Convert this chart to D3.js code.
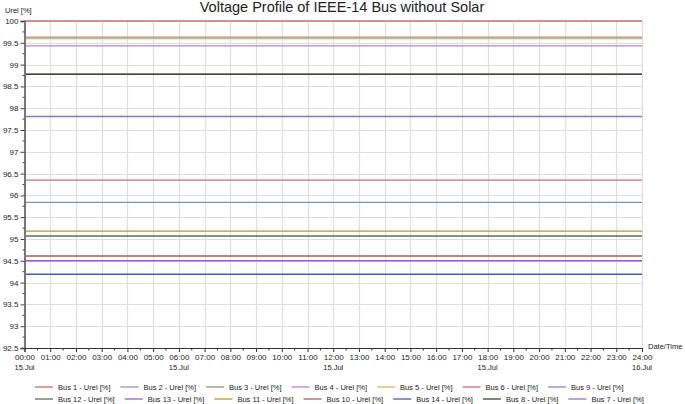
<!DOCTYPE html>
<head>
<meta charset="utf-8">
<title>Voltage Profile</title>
<style>
body { margin: 0; background: #fff; }
text { font-family: "Liberation Sans", Arial, sans-serif; fill: #222; }
.grid line { stroke: #dedede; stroke-width: 1.2px; }
.tick text { font-size: 8px; }
</style>
</head>
<body>
<script src="https://cdn.jsdelivr.net/npm/d3@7"></script>
<script>

// bus names, in legend order
var buses = ["Bus 1", "Bus 2", "Bus 3", "Bus 4", "Bus 5", "Bus 6", "Bus 9",
             "Bus 12", "Bus 13", "Bus 11", "Bus 10", "Bus 14", "Bus 8", "Bus 7"];
// Urel [%] for each bus (flat over the day)
var urel = [100, 99.63, 98.78, 99.43, 99.60, 96.35, 95.84,
            95.07, 94.50, 95.18, 94.61, 94.19, 98.78, 97.81];
var colors = ["#d66a6a", "#8393c8", "#8a9a7a", "#b283e0", "#e2b24c", "#cc7070", "#7b8fd6",
              "#5c7050", "#9a5ad8", "#b8962e", "#b05a5a", "#3c5ccc", "#3e4634", "#9470c4"];
var hours = [0, 24];
var dateLabels = [[0, "15.Jul"], [6, "15.Jul"], [12, "15.Jul"], [18, "15.Jul"], [24, "16.Jul"]];

var width = 685, height = 404;
var pLeft = 24.5, pRight = 642, pTop = 21, pBottom = 348;

var svg = d3.select("body").append("svg")
    .attr("width", width)
    .attr("height", height);

var x = d3.scaleLinear().domain([0, 24]).range([pLeft, pRight]);
var y = d3.scaleLinear().domain([92.5, 100]).range([pBottom, pTop]);

var yTicks = d3.range(92.5, 100.01, 0.5);
var xTicks = d3.range(0, 24.01, 1);

// grid
var grid = svg.append("g").attr("class", "grid");
grid.selectAll(".h").data(yTicks).enter().append("line")
    .attr("x1", pLeft).attr("x2", pRight)
    .attr("y1", function(d) { return Math.round(y(d)) + 0.5; })
    .attr("y2", function(d) { return Math.round(y(d)) + 0.5; });
grid.selectAll(".v").data(xTicks).enter().append("line")
    .attr("y1", pTop).attr("y2", pBottom)
    .attr("x1", function(d) { return Math.round(x(d)) + 0.5; })
    .attr("x2", function(d) { return Math.round(x(d)) + 0.5; });

// series
var line = d3.line()
    .x(function(d) { return x(d[0]); })
    .y(function(d) { return y(d[1]); });

svg.append("g").selectAll("path")
    .data(buses)
    .enter().append("path")
    .attr("fill", "none")
    .attr("stroke", function(d, i) { return colors[i]; })
    .attr("stroke-width", 1.4)
    .attr("d", function(d, i) {
        return line(hours.map(function(h) { return [h, urel[i]]; }));
    });

// y axis
var yAxis = d3.axisLeft(y)
    .tickValues(yTicks)
    .tickSize(4)
    .tickFormat(function(d) { return d3.format("~g")(d); });
var gy = svg.append("g").attr("transform", "translate(" + pLeft + ",0)").call(yAxis);
gy.select(".domain").attr("stroke", "#777").attr("stroke-width", 2);
gy.selectAll(".tick line").attr("stroke", "#444");
gy.selectAll(".tick text").attr("x", -6);

// minor y ticks
svg.append("g").selectAll("line")
    .data(d3.range(92.75, 100, 0.5))
    .enter().append("line")
    .attr("x1", pLeft - 2).attr("x2", pLeft)
    .attr("y1", function(d) { return y(d); })
    .attr("y2", function(d) { return y(d); })
    .attr("stroke", "#444");

// x axis
var xAxis = d3.axisBottom(x)
    .tickValues(xTicks)
    .tickSize(4)
    .tickFormat(function(d) { return d3.format("02")(d) + ":00"; });
var gx = svg.append("g").attr("transform", "translate(0," + pBottom + ")").call(xAxis);
gx.select(".domain").attr("stroke", "#333").attr("stroke-width", 1);
gx.selectAll(".tick line").attr("stroke", "#333");
gx.selectAll(".tick text").attr("y", 6);

// minor x ticks
svg.append("g").selectAll("line")
    .data(d3.range(0.5, 24, 1))
    .enter().append("line")
    .attr("y1", pBottom).attr("y2", pBottom + 2.5)
    .attr("x1", function(d) { return x(d); })
    .attr("x2", function(d) { return x(d); })
    .attr("stroke", "#333");

svg.append("g").selectAll("text")
    .data(dateLabels)
    .enter().append("text")
    .attr("x", function(d) { return x(d[0]); })
    .attr("y", 369.5)
    .attr("text-anchor", "middle")
    .style("font-size", "7.5px")
    .text(function(d) { return d[1]; });

// axis titles
svg.append("text")
    .attr("x", 5).attr("y", 13)
    .style("font-size", "7.5px")
    .text("Urel [%]");
svg.append("text")
    .attr("x", 648).attr("y", 349)
    .style("font-size", "7.5px")
    .text("Date/Time");

// title
svg.append("text")
    .attr("x", 342).attr("y", 12)
    .attr("text-anchor", "middle")
    .style("font-size", "14.5px")
    .text("Voltage Profile of IEEE-14 Bus without Solar");

// legend, two rows of seven
var rows = [buses.slice(0, 7), buses.slice(7)];
rows.forEach(function(row, r) {
    var g = svg.append("g");
    var cx = 0;
    row.forEach(function(name, j) {
        var i = r * 7 + j;
        g.append("line")
            .attr("x1", cx).attr("x2", cx + 18)
            .attr("y1", 0).attr("y2", 0)
            .attr("stroke", colors[i])
            .attr("stroke-width", 1.3);
        var t = g.append("text")
            .attr("x", cx + 23).attr("y", 2.5)
            .style("font-size", "7.5px")
            .text(name + " - Urel [%]");
        cx += 23 + t.node().getComputedTextLength() + 10;
    });
    g.attr("transform", "translate(35," + (r === 0 ? 387 : 399) + ")");
});

</script>
</body>
</html>
